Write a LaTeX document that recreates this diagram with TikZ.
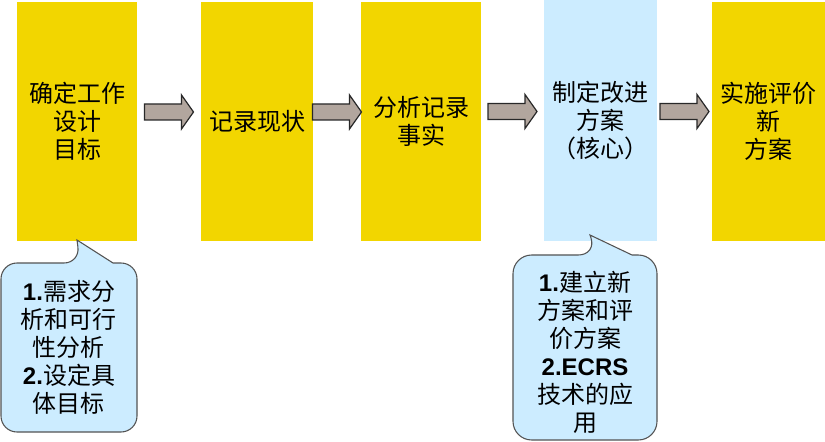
\documentclass[tikz,border=0pt]{standalone}
\usepackage{fontspec}
\setmainfont{Liberation Sans}
\newfontfamily\cjk{Noto Sans CJK SC}
\usetikzlibrary{calc}
\definecolor{stepyellow}{RGB}{242,214,0}
\definecolor{corecyan}{RGB}{204,236,255}
\definecolor{arrowgray}{RGB}{178,166,158}
\definecolor{edgegray}{RGB}{40,40,40}
\tikzset{
  stepbox/.style={fill=stepyellow,inner sep=0pt,align=center,
    minimum height=239*0.75pt,font=\cjk\fontsize{18pt}{20.8pt}\selectfont},
  corebox/.style={stepbox,fill=corecyan,minimum height=241*0.75pt},
  blockarrow/.style={fill=arrowgray,draw=edgegray,line width=0.9pt,line join=miter},
  callout/.style={fill=corecyan,draw=edgegray!80,line width=0.8pt},
  callouttext/.style={align=center,inner sep=0pt,font=\cjk\fontsize{18pt}{21pt}\selectfont}
}
\begin{document}
\begin{tikzpicture}[x=0.75pt,y=-0.75pt]
  \useasboundingbox (0,0) rectangle (825,442);
  % process steps
  \node[stepbox,minimum width=120*0.75pt] (b1) at (77,121.5) {确定工作\\设计\\目标};
  \node[stepbox,minimum width=112*0.75pt] (b2) at (257,121.5) {记录现状};
  \node[stepbox,minimum width=120*0.75pt] (b3) at (421,121.5) {分析记录\\事实};
  \node[corebox,minimum width=113*0.75pt] (b4) at (600.5,120.5) {制定改进\\方案\\（核心）};
  \node[stepbox,minimum width=113*0.75pt] (b5) at (768.5,121.5) {实施评价\\新\\方案};
  % arrows between the steps
  \foreach \i/\j in {1/2,2/3,3/4,4/5} {
    \coordinate (a\i) at ($(b\i.east)!0.5!(b\j.west)+(0,-9.5)$);
    \draw[blockarrow,shift={(a\i)}] (-24.5,-8) -- (12.5,-8) -- (12.5,-17) -- (24.5,0)
      -- (12.5,17) -- (12.5,8) -- (-24.5,8) -- cycle;
  }
  % callouts
  \draw[callout] (1,350) [rounded corners=12pt] -- (1,263) -- (80,263) [sharp corners]
    -- (77,240) -- (113,263) [rounded corners=12pt] -- (137,263) -- (137,432) -- (1,432) -- cycle;
  \node[callouttext] (c1) at (69,347) {{\rmfamily\bfseries 1.}需求分\\析和可行\\性分析\\{\rmfamily\bfseries 2.}设定具\\体目标};
  \draw[callout] (513,350) [rounded corners=14pt] -- (513,255) -- (597,255) [sharp corners]
    -- (590,235) -- (632,255) [rounded corners=14pt] -- (657,255) -- (657,440) -- (513,440) -- cycle;
  \node[callouttext] (c2) at (585,352) {{\rmfamily\bfseries 1.}建立新\\方案和评\\价方案\\{\rmfamily\bfseries 2.ECRS}\\技术的应\\用};
\end{tikzpicture}
\end{document}
